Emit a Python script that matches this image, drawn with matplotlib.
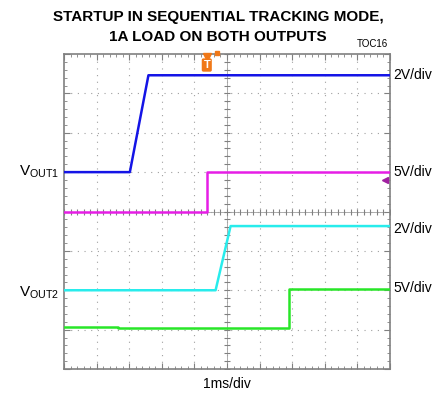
import numpy as np
import matplotlib.pyplot as plt
from matplotlib.ticker import MultipleLocator

plt.rcParams['font.family'] = ['Liberation Sans', 'DejaVu Sans']

# trace data, in screen divisions (x: 10 div of 1ms, y: 8 div)
blue_t = [0, 2.02, 2.59, 10]
blue_v = [5.0, 5.0, 7.46, 7.46]
magenta_t = [0, 4.38, 4.38, 10]
magenta_v = [4.0, 4.0, 5.0, 5.0]
cyan_t = [0, 4.65, 5.11, 10]
cyan_v = [2.0, 2.0, 3.63, 3.63]
green_t = [0, 1.67, 1.67, 6.91, 6.91, 10]
green_v = [1.07, 1.07, 1.04, 1.04, 2.02, 2.02]

trig_t = 4.38
scale_labels = ['2V/div', '5V/div', '2V/div', '5V/div']
scale_levels = [7.46, 5.0, 3.55, 2.05]
chan_labels = [r'V$_{\mathregular{OUT1}}$', r'V$_{\mathregular{OUT2}}$']
chan_levels = [5.0, 1.95]

fig = plt.figure(figsize=(4.32, 4.0), dpi=100)
ax = fig.add_axes([64 / 432, 31 / 400, 326 / 432, 315 / 400])
ax.set_xlim(0, 10)
ax.set_ylim(0, 8)

# graticule
grid_col = '#a0a0a0'
for x in range(1, 10):
    ax.axvline(x, color=grid_col, lw=0.8, ls=(0, (1, 5)), zorder=1)
for y in range(1, 8):
    ax.axhline(y, color=grid_col, lw=0.8, ls=(0, (1, 5)), zorder=1)
ax.axvline(5, color=grid_col, lw=0.6, zorder=1)
ax.axhline(4, color=grid_col, lw=0.6, zorder=1)
mx = np.arange(0, 10.01, 0.2)
my = np.arange(0, 8.01, 0.2)
ax.plot(mx, np.full_like(mx, 4), '|', color='#808080', ms=4, mew=0.8, zorder=1)
ax.plot(np.full_like(my, 5), my, '_', color='#808080', ms=4, mew=0.8, zorder=1)

ax.xaxis.set_major_locator(MultipleLocator(1))
ax.xaxis.set_minor_locator(MultipleLocator(0.2))
ax.yaxis.set_major_locator(MultipleLocator(1))
ax.yaxis.set_minor_locator(MultipleLocator(0.2))
ax.tick_params(which='both', direction='in', top=True, right=True,
               labelbottom=False, labelleft=False, color='#808080')
ax.tick_params(which='major', length=4, width=0.8)
ax.tick_params(which='minor', length=2, width=0.6)
for s in ax.spines.values():
    s.set_color('#808080')
    s.set_linewidth(1.2)

# traces
ax.plot(blue_t, blue_v, color='#1414e6', lw=1.8, zorder=3)
ax.plot(magenta_t, magenta_v, color='#e61ee6', lw=1.8, zorder=3)
ax.plot(cyan_t, cyan_v, color='#28ecec', lw=1.8, zorder=3)
ax.plot(green_t, green_v, color='#28e628', lw=1.8, zorder=3)

# trigger marker
ax.plot([trig_t], [7.93], 'v', color='#f07818', ms=6, clip_on=False, zorder=4)
ax.plot([trig_t + 0.3], [8.02], 's', color='#f07818', ms=2.5, clip_on=False, zorder=4)
ax.text(trig_t, 7.72, 'T', color='white', fontsize=8, fontweight='bold',
        ha='center', va='center', zorder=5,
        bbox=dict(boxstyle='round,pad=0.15', fc='#f07818', ec='none'))
ax.plot([9.85], [4.8], '<', color='#a020a0', ms=5, zorder=4)

# labels
for lab, lev in zip(scale_labels, scale_levels):
    ax.text(10.1, lev, lab, fontsize=10, ha='left', va='center', clip_on=False)
for lab, lev in zip(chan_labels, chan_levels):
    ax.text(-0.15, lev, lab, fontsize=11, ha='right', va='center', clip_on=False)

fig.text(218 / 432, 1 - 17 / 400, 'STARTUP IN SEQUENTIAL TRACKING MODE,',
         fontsize=11, fontweight='bold', ha='center', va='center')
fig.text(218 / 432, 1 - 37 / 400, '1A LOAD ON BOTH OUTPUTS',
         fontsize=11, fontweight='bold', ha='center', va='center')
fig.text(388 / 432, 1 - 44 / 400, 'TOC16', fontsize=7, ha='right', va='center')
fig.text(227 / 432, 1 - 384 / 400, '1ms/div', fontsize=10, ha='center', va='center')

fig.savefig('out.png', dpi=100)
